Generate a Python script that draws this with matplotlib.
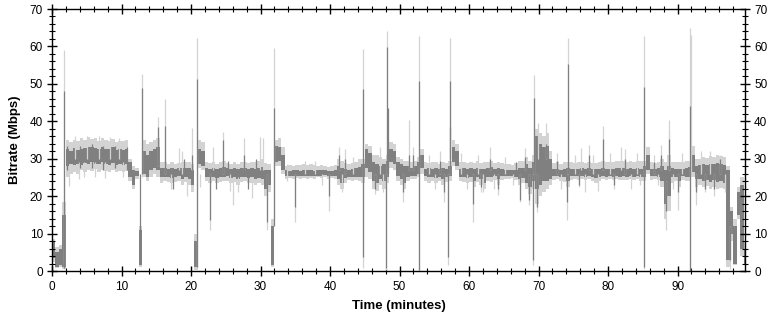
"""
Bitrate trace over time: per-frame peaks (light) and per-second averages (dark).
Writes out.png (772x318).
"""

import matplotlib
matplotlib.use("Agg")
import matplotlib.pyplot as plt
import numpy as np

# base bands, one value per half minute (0.0, 0.5, ... 99.5)
avg_lo = [
    3.5, 1.2, 1.5, 1.0, 28.0, 28.5, 28.2, 28.6, 28.4, 28.8, 28.5, 29.0, 28.7, 28.5, 29.0, 28.6, 28.4, 28.8, 28.2, 28.5,
    28.3, 28.5, 25.0, 23.0, 25.5, 1.5, 26.0, 25.0, 27.0, 27.5, 27.0, 25.0, 25.0, 25.2, 24.8, 25.0, 25.3, 24.5, 25.0, 24.5,
    23.0, 1.0, 28.5, 28.0, 25.0, 25.0, 25.2, 24.8, 25.0, 25.0, 25.3, 24.8, 25.0, 24.7, 25.0, 25.2, 24.8, 25.0, 24.5, 24.8,
    24.5, 22.0, 23.0, 1.5, 29.0, 29.5, 27.0, 25.3, 25.5, 25.4, 25.5, 25.3, 25.5, 25.4, 25.5, 25.3, 25.5, 25.4, 25.6, 25.3,
    25.5, 25.3, 24.5, 23.5, 24.8, 25.2, 25.0, 25.2, 25.0, 25.0, 27.5, 26.5, 24.0, 23.5, 24.5, 24.0, 25.0, 29.0, 28.5, 25.5,
    24.5, 23.5, 25.0, 25.3, 25.5, 26.0, 27.5, 25.3, 25.0, 25.2, 24.8, 25.0, 24.5, 25.0, 25.5, 29.0, 28.0, 25.2, 25.0, 24.8,
    25.0, 24.0, 25.0, 24.5, 23.5, 25.2, 25.0, 25.3, 24.5, 25.3, 25.5, 25.4, 25.5, 25.2, 24.5, 24.8, 23.5, 22.5, 24.0, 22.0,
    23.0, 24.0, 24.0, 24.5, 25.3, 25.5, 25.2, 25.0, 24.0, 25.3, 25.5, 25.3, 25.5, 25.2, 25.4, 25.0, 24.8, 25.2, 25.3, 25.2,
    25.4, 25.2, 25.4, 25.2, 25.3, 25.2, 25.4, 25.2, 25.3, 25.1, 25.0, 27.0, 25.3, 25.5, 25.2, 24.0, 18.0, 20.0, 25.0, 25.2,
    24.0, 25.3, 25.0, 25.2, 26.5, 24.5, 24.5, 24.0, 24.3, 23.8, 24.2, 23.8, 24.0, 23.6, 3.0, 10.0, 2.0, 15.0, 6.0, 2.0,
]
avg_hi = [
    8.0, 5.0, 6.0, 15.0, 32.5, 32.0, 32.8, 32.4, 32.6, 32.8, 33.0, 33.2, 32.8, 32.5, 33.0, 32.6, 32.5, 33.0, 32.3, 32.6,
    32.4, 32.5, 29.0, 27.0, 26.8, 11.0, 32.0, 31.0, 32.0, 32.5, 33.0, 27.5, 27.5, 27.3, 27.5, 27.2, 27.5, 27.4, 27.6, 27.5,
    27.0, 8.0, 32.5, 32.0, 27.5, 27.2, 27.5, 27.3, 27.6, 27.8, 27.4, 27.2, 27.5, 27.3, 27.6, 27.5, 27.2, 27.5, 27.3, 27.6,
    27.8, 27.0, 27.0, 12.0, 33.5, 33.0, 31.0, 27.0, 26.8, 27.0, 26.9, 26.8, 27.0, 26.9, 27.0, 26.8, 27.0, 26.9, 27.0, 26.8,
    26.8, 27.0, 28.0, 27.5, 27.3, 27.0, 27.3, 27.5, 27.8, 28.5, 32.5, 31.5, 29.0, 28.5, 28.0, 28.5, 29.5, 32.5, 32.0, 29.0,
    28.5, 28.0, 28.0, 27.5, 28.0, 29.0, 31.0, 27.2, 27.5, 27.3, 27.5, 27.2, 27.5, 27.3, 28.0, 33.0, 32.0, 27.3, 27.5, 27.2,
    27.5, 27.3, 27.6, 27.2, 27.3, 27.5, 27.8, 27.3, 27.4, 27.2, 27.0, 27.0, 27.0, 27.0, 27.5, 27.5, 28.5, 27.5, 29.0, 36.0,
    34.0, 33.0, 33.5, 30.0, 27.2, 27.3, 27.0, 27.3, 27.5, 27.3, 27.2, 27.3, 27.5, 27.2, 27.4, 27.2, 27.2, 27.3, 27.5, 27.3,
    27.3, 27.2, 27.4, 27.5, 27.4, 27.3, 27.5, 27.3, 27.5, 27.3, 28.0, 31.0, 27.3, 27.2, 27.4, 28.0, 27.0, 28.0, 27.5, 27.3,
    27.3, 27.3, 27.5, 27.7, 31.0, 28.0, 28.2, 28.5, 28.3, 28.6, 28.5, 28.8, 28.6, 28.4, 27.0, 16.0, 12.0, 21.0, 23.0, 6.0,
]
peak_lo = [
    2.5, 0.8, 1.0, 0.5, 25.0, 26.0, 26.5, 26.0, 27.0, 26.5, 27.0, 26.8, 27.2, 26.5, 27.0, 26.8, 26.5, 27.0, 26.5, 26.8,
    26.5, 26.6, 24.0, 22.0, 24.5, 1.0, 25.0, 24.0, 25.0, 26.0, 25.0, 23.5, 24.0, 23.8, 23.5, 23.7, 24.0, 23.0, 23.8, 23.0,
    21.0, 0.3, 27.5, 27.0, 24.0, 23.5, 24.0, 23.5, 23.8, 24.0, 24.0, 23.4, 23.8, 23.0, 23.8, 24.0, 23.5, 23.6, 23.0, 23.4,
    23.0, 20.0, 21.0, 1.0, 28.0, 28.0, 26.0, 24.5, 24.8, 24.5, 24.8, 24.5, 24.8, 24.6, 24.8, 24.5, 25.0, 24.8, 25.0, 24.6,
    24.8, 24.5, 23.0, 22.0, 23.5, 24.3, 24.0, 24.2, 24.0, 23.5, 25.0, 24.5, 22.0, 21.5, 23.0, 22.0, 23.5, 27.5, 27.0, 24.0,
    23.0, 22.0, 24.0, 24.5, 24.5, 25.0, 26.0, 24.0, 23.5, 24.0, 23.5, 24.0, 23.0, 23.8, 24.0, 28.0, 27.0, 24.0, 23.8, 23.5,
    23.8, 22.5, 23.8, 23.0, 22.0, 24.0, 23.8, 24.2, 23.0, 24.3, 24.6, 24.5, 24.8, 24.3, 23.0, 23.5, 22.0, 20.5, 22.0, 18.0,
    20.0, 21.0, 22.0, 23.0, 24.3, 24.5, 24.0, 23.8, 22.5, 24.3, 24.6, 24.3, 24.5, 24.3, 24.5, 24.0, 23.5, 24.0, 24.5, 24.3,
    24.5, 24.2, 24.5, 24.3, 24.4, 24.2, 24.5, 24.2, 24.5, 24.0, 24.0, 26.0, 24.3, 24.5, 24.2, 22.5, 14.0, 16.0, 23.5, 24.0,
    22.5, 24.3, 24.0, 24.0, 25.0, 22.5, 23.0, 22.5, 22.8, 22.0, 22.5, 22.0, 22.3, 21.8, 1.0, 8.0, 1.5, 14.0, 4.0, 1.5,
]
peak_hi = [
    8.5, 6.5, 7.0, 18.5, 35.0, 34.5, 35.0, 34.8, 35.5, 35.0, 35.8, 35.2, 35.5, 34.8, 35.5, 35.0, 34.6, 35.2, 34.5, 34.8,
    34.6, 35.0, 30.0, 28.0, 27.5, 12.0, 35.0, 34.0, 34.5, 35.0, 35.5, 29.0, 29.0, 28.7, 29.0, 28.5, 28.8, 29.0, 29.2, 29.0,
    28.5, 10.0, 35.0, 34.5, 29.0, 28.8, 29.0, 28.6, 29.2, 29.5, 28.8, 28.5, 29.0, 28.7, 29.2, 29.0, 28.8, 29.0, 29.0, 29.3,
    30.0, 28.8, 28.5, 14.0, 35.0, 35.5, 33.0, 28.0, 28.3, 28.0, 28.2, 28.4, 28.6, 28.3, 28.5, 28.2, 28.0, 28.3, 28.0, 27.8,
    28.0, 28.3, 30.0, 29.5, 28.8, 28.5, 28.8, 29.0, 29.8, 30.0, 34.0, 33.5, 31.0, 31.0, 30.5, 30.0, 31.0, 34.5, 34.0, 30.5,
    30.0, 29.5, 29.5, 29.0, 29.5, 30.5, 32.5, 29.0, 28.8, 29.0, 29.2, 28.7, 29.0, 28.8, 29.5, 35.0, 34.0, 29.0, 29.2, 28.8,
    29.0, 28.8, 29.3, 28.8, 29.0, 29.0, 29.5, 28.8, 29.0, 28.8, 28.6, 28.5, 28.4, 28.8, 29.5, 29.5, 30.5, 29.5, 31.0, 38.0,
    37.0, 36.0, 37.0, 32.0, 28.8, 29.0, 28.6, 29.0, 29.0, 29.0, 28.8, 29.0, 29.0, 28.8, 29.2, 28.8, 28.8, 29.0, 29.3, 29.0,
    29.2, 29.0, 29.3, 29.5, 29.5, 29.2, 29.5, 29.2, 29.5, 29.3, 29.5, 33.0, 29.0, 28.8, 29.0, 30.0, 29.0, 31.0, 29.0, 29.0,
    29.0, 29.0, 29.3, 29.5, 33.5, 30.0, 30.0, 30.5, 30.2, 30.8, 30.5, 31.0, 30.8, 30.5, 28.0, 17.0, 14.0, 22.5, 25.0, 8.0,
]

# narrow excursions of the peak trace (minutes, low, high)
peak_spike_t = [
    1.75, 2.5, 13.0, 15.3, 16.2, 18.2, 19.4, 20.1, 20.9, 22.8, 23.2, 24.6, 26.1, 26.7, 27.6, 28.8,
    29.9, 30.4, 30.9, 32.0, 35.0, 39.8, 41.3, 44.7, 48.1, 48.2, 50.5, 51.3, 52.0, 52.8, 56.4, 57.0,
    57.2, 60.5, 62.0, 63.0, 64.1, 67.3, 68.1, 68.6, 69.2, 69.4, 69.8, 69.9, 71.0, 74.1, 74.3, 76.1,
    77.3, 78.5, 79.2, 81.8, 85.1, 85.2, 87.6, 88.3, 88.7, 88.8, 90.0, 91.8, 91.9, 92.7, 97.5,
    3.3, 5.1, 6.8, 8.4, 9.7, 3.9, 4.6, 6.2, 7.6, 10.2, 36.4, 37.8, 38.9, 41.7, 42.1, 43.3,
    46.4, 47.2, 47.6, 54.2, 55.1, 55.8, 58.9, 59.7, 61.3, 61.7, 63.6, 65.2, 66.3, 72.6, 73.2, 75.3,
    75.8, 76.7, 77.9, 80.3, 80.8, 82.4, 83.3, 84.1, 84.6, 86.6, 87.2, 89.3, 90.6, 93.4, 93.9, 94.7,
    95.3, 96.1, 96.8, 17.1, 18.7, 21.3, 25.6, 33.8,
]
peak_spike_lo = [
    0.5, 22.6, 25.0, 28.0, 26.0, 27.0, 20.0, 27.0, 0.5, 11.0, 27.0, 26.0, 17.6, 21.0, 27.0, 19.4,
    27.0, 27.0, 11.0, 14.0, 13.2, 16.0, 27.0, 0.7, 0.3, 26.0, 18.5, 27.0, 27.0, 0.0, 18.5, 1.6,
    26.0, 13.2, 21.0, 27.0, 20.3, 18.5, 27.0, 17.6, 1.6, 26.0, 15.8, 30.0, 30.0, 13.6, 26.0, 27.0,
    27.0, 21.4, 27.0, 27.0, 0.5, 26.0, 27.0, 11.0, 27.0, 27.0, 16.2, 0.0, 26.0, 17.6, 0.5,
    30.0, 30.0, 30.0, 30.0, 30.0, 24.5, 25.0, 25.0, 24.8, 25.0, 26.0, 26.0, 23.0, 21.0, 26.0, 26.0,
    20.5, 26.0, 21.0, 26.0, 22.0, 26.0, 26.0, 22.0, 26.0, 21.0, 22.0, 26.0, 23.0, 26.0, 22.0, 26.0,
    22.5, 21.0, 26.0, 26.0, 22.0, 26.0, 22.0, 26.0, 23.0, 26.0, 23.0, 22.0, 26.0, 26.0, 21.0, 26.0,
    20.0, 26.0, 21.0, 22.0, 26.0, 22.5, 21.5, 24.0,
]
peak_spike_hi = [
    59.0, 27.0, 52.6, 41.2, 46.0, 32.8, 25.0, 38.2, 62.2, 26.0, 33.0, 37.2, 25.0, 25.0, 35.5, 25.0,
    35.9, 35.5, 26.0, 59.7, 26.0, 26.0, 33.0, 59.2, 26.0, 64.1, 26.0, 40.3, 33.0, 62.8, 26.0, 26.0,
    62.2, 26.0, 26.0, 33.0, 26.0, 26.0, 32.8, 26.0, 26.0, 52.4, 26.0, 39.5, 39.5, 26.0, 62.2, 32.8,
    33.7, 26.0, 38.7, 33.0, 26.0, 62.8, 33.7, 24.0, 37.7, 40.3, 26.0, 65.0, 63.0, 26.0, 12.0,
    36.0, 36.2, 36.0, 35.8, 35.5, 29.0, 29.0, 29.0, 29.0, 29.0, 29.5, 29.3, 26.0, 26.0, 32.5, 30.5,
    26.0, 33.0, 26.0, 31.0, 26.0, 32.0, 31.5, 26.0, 31.0, 26.0, 26.0, 30.5, 26.0, 31.5, 26.0, 31.0,
    26.0, 26.0, 31.0, 31.5, 26.0, 32.5, 26.0, 31.5, 26.0, 31.0, 26.0, 26.0, 31.5, 32.0, 26.0, 32.0,
    26.0, 31.0, 26.0, 26.0, 32.0, 26.0, 26.0, 28.5,
]

# narrow excursions of the average trace
avg_spike_t = [
    1.75, 13.0, 15.3, 16.2, 20.1, 20.9, 22.8, 24.6, 27.6, 30.9, 32.0, 35.0, 39.8, 41.3, 44.7, 48.1,
    48.2, 48.3, 50.5, 51.3, 52.0, 52.8, 56.4, 57.0, 57.2, 57.3, 60.5, 63.0, 64.1, 67.3, 68.1, 68.6,
    69.2, 69.4, 69.8, 71.0, 74.1, 74.3, 77.3, 79.2, 85.1, 85.2, 87.6, 88.3, 88.8, 90.0, 91.8, 92.7, 97.5,
    12.6, 2.2, 4.1, 5.8, 7.3, 9.1, 10.8, 17.4, 19.0, 23.6, 25.3, 28.2, 29.4, 42.1, 46.4, 55.8,
    61.7, 66.8, 72.6, 75.8, 80.8, 82.4, 86.6, 93.9, 95.3, 96.1,
]
avg_spike_lo = [
    0.8, 26.0, 28.0, 26.0, 27.0, 1.0, 13.6, 26.0, 26.0, 13.0, 12.0, 17.0, 20.0, 27.0, 3.8, 0.7,
    26.0, 26.0, 21.0, 27.0, 27.0, 0.3, 21.0, 3.8, 26.0, 30.0, 18.0, 27.0, 22.0, 19.0, 27.0, 19.0,
    3.0, 26.0, 17.0, 30.0, 18.5, 26.0, 27.0, 27.0, 1.1, 26.0, 27.0, 16.0, 27.0, 21.0, 0.0, 21.0, 3.0,
    11.0, 27.0, 27.5, 27.5, 27.0, 27.5, 27.0, 22.0, 26.0, 22.0, 26.0, 22.0, 26.0, 26.0, 22.0, 26.0,
    22.5, 26.0, 26.0, 23.0, 23.0, 26.0, 26.0, 22.0, 22.0, 26.0,
]
avg_spike_hi = [
    48.0, 49.0, 38.5, 38.7, 31.0, 51.3, 26.0, 35.0, 31.0, 26.0, 43.5, 26.0, 26.0, 31.0, 48.6, 26.0,
    59.9, 43.5, 26.0, 31.0, 31.0, 50.8, 26.0, 26.0, 50.8, 38.5, 26.0, 30.0, 26.0, 26.0, 30.5, 26.0,
    26.0, 46.1, 26.0, 34.0, 26.0, 55.2, 31.0, 35.3, 26.0, 49.2, 31.0, 24.0, 35.4, 26.0, 44.0, 26.0, 12.0,
    26.0, 33.5, 33.5, 34.0, 33.5, 33.5, 33.0, 26.0, 30.0, 26.0, 29.5, 26.0, 30.0, 30.0, 26.0, 29.5,
    26.0, 29.0, 29.5, 26.0, 26.0, 30.0, 29.0, 26.0, 26.0, 30.0,
]

STEP = 0.5
LIGHT = "#d3d3d3"
DARK = "#808080"


def draw_band(ax, lo, hi, color):
    t = np.arange(len(lo)) * STEP
    lo = np.asarray(lo)
    hi = np.asarray(hi)
    ax.bar(t, hi - lo, bottom=lo, width=STEP, align="edge",
           color=color, linewidth=0)


def main() -> None:
    plt.rcParams["font.family"] = ["Liberation Sans", "DejaVu Sans"]

    fig = plt.figure(figsize=(7.72, 3.18), dpi=100)
    ax = fig.add_axes([52 / 772, 47 / 318, 693 / 772, 262 / 318])

    draw_band(ax, peak_lo, peak_hi, LIGHT)
    ax.vlines(peak_spike_t, peak_spike_lo, peak_spike_hi, color=LIGHT, linewidth=0.9)
    draw_band(ax, avg_lo, avg_hi, DARK)
    ax.vlines(avg_spike_t, avg_spike_lo, avg_spike_hi, color=DARK, linewidth=0.9)

    ax.set_xlim(0, 99.7)
    ax.set_ylim(0, 70)
    ax.set_xticks(np.arange(0, 100, 10))
    ax.set_xticks(np.arange(0, 100, 2), minor=True)
    ax.set_yticks(np.arange(0, 71, 10))
    ax.set_yticks(np.arange(0, 71, 2), minor=True)

    ax.tick_params(which="both", direction="inout", top=True, right=True,
                   labelright=True, labelsize=8.5, colors="black")
    ax.tick_params(which="major", length=7, width=1)
    ax.tick_params(which="minor", length=4, width=0.8)
    ax.tick_params(axis="y", which="major", pad=3)
    ax.tick_params(axis="x", which="major", pad=4)
    for s in ax.spines.values():
        s.set_linewidth(1.0)

    ax.set_xlabel("Time (minutes)", fontsize=9.5, fontweight="bold", labelpad=5)
    ax.set_ylabel("Bitrate (Mbps)", fontsize=9.5, fontweight="bold", labelpad=6)

    fig.savefig("out.png", dpi=100)
    plt.close(fig)


if __name__ == "__main__":
    main()
